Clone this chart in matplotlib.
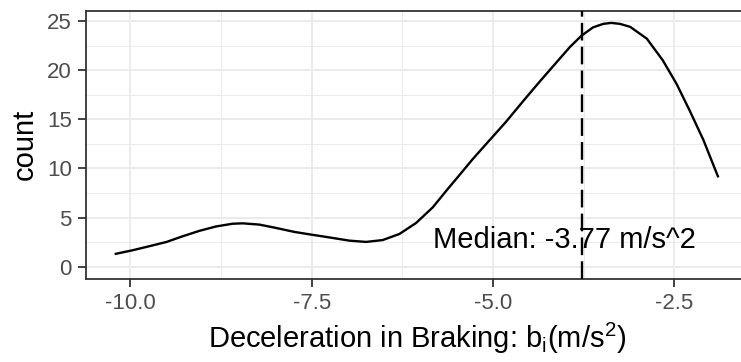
import matplotlib
matplotlib.use('Agg')
import matplotlib.pyplot as plt
from matplotlib.ticker import MultipleLocator

plt.rcParams['font.family'] = ['Liberation Sans', 'DejaVu Sans']
plt.rcParams['mathtext.default'] = 'regular'

# density curve of braking deceleration (scaled to counts)
decel = [-10.20, -9.97, -9.74, -9.50, -9.28, -9.05, -8.82, -8.59, -8.45,
         -8.22, -7.99, -7.74, -7.53, -7.25, -6.98, -6.75, -6.52, -6.29,
         -6.06, -5.83, -5.62, -5.46, -5.28, -5.02, -4.82, -4.59, -4.36,
         -4.10, -3.94, -3.78, -3.62, -3.48, -3.37, -3.25, -3.11, -2.88,
         -2.66, -2.47, -2.29, -2.10, -1.90]
count = [1.32, 1.68, 2.09, 2.53, 3.10, 3.65, 4.10, 4.38, 4.42,
         4.29, 3.95, 3.55, 3.30, 2.98, 2.66, 2.53, 2.72, 3.34,
         4.46, 6.05, 7.95, 9.35, 10.95, 13.1, 14.75, 16.8, 18.8,
         21.0, 22.35, 23.5, 24.35, 24.7, 24.8, 24.7, 24.4, 23.2,
         21.0, 18.6, 15.9, 12.9, 9.2]
median_decel = -3.77
median_label = "Median: -3.77 m/s^2"

X_TICKS = [-10.0, -7.5, -5.0, -2.5]
Y_TICKS = [0, 5, 10, 15, 20, 25]

fig = plt.figure(figsize=(7.41, 3.62), dpi=100)
ax = fig.add_axes([85.7 / 741, 83 / 362, (748 - 85.7) / 741, (279 - 10.7) / 362])

ax.plot(decel, count, color='black', lw=1.7, solid_joinstyle='round', zorder=3)
ax.axvline(median_decel, color='black', lw=1.7, dashes=(7.5, 2.6), zorder=4)
ax.text(-4.01, 2.75, median_label, ha='center', va='center',
        fontsize=21, color='black', zorder=3)

span = max(decel) - min(decel)
ax.set_xlim(min(decel) - 0.05 * span, max(decel) + 0.05 * span)
ymax = max(count)
ax.set_ylim(-0.05 * ymax, 1.05 * ymax)

ax.set_xticks(X_TICKS)
ax.set_xticklabels([f"{t:.1f}" for t in X_TICKS])
ax.set_yticks(Y_TICKS)
ax.xaxis.set_minor_locator(MultipleLocator(1.25))
ax.yaxis.set_minor_locator(MultipleLocator(2.5))

# theme_bw look
ax.set_facecolor('white')
ax.grid(True, which='major', color='#EBEBEB', lw=1.4, zorder=0)
ax.grid(True, which='minor', color='#EBEBEB', lw=0.7, zorder=0)
ax.set_axisbelow(True)
for s in ax.spines.values():
    s.set_color('#333333')
    s.set_linewidth(1.3)
ax.tick_params(which='major', length=6, width=1.3, color='#333333',
               labelcolor='#4D4D4D', labelsize=16, pad=4)
ax.tick_params(which='minor', length=0)

ax.set_xlabel("Deceleration in Braking: $b_i(m/s^2)$", fontsize=21, labelpad=5)
ax.set_ylabel("count", fontsize=21, labelpad=6)

fig.savefig('out.png', dpi=100)
